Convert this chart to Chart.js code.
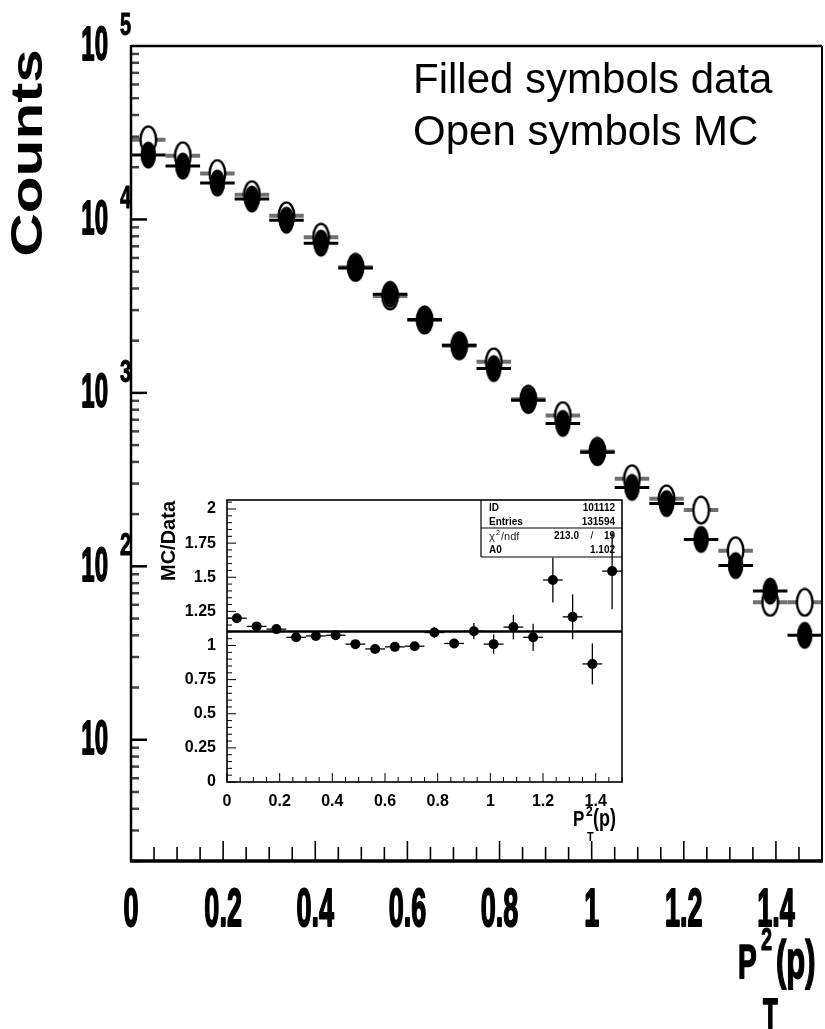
<!DOCTYPE html>
<html lang="en">
<head>
  <meta charset="UTF-8" />
  <title>pT2 spectrum, data vs MC</title>
  <script src="https://cdn.jsdelivr.net/npm/chart.js"></script>
  <style>
    body { margin: 0; background: #fff; }
    #wrap { position: relative; width: 825px; height: 1029px; }
    #mainChart { position: absolute; left: 0; top: 0; }
    #ratioChart { position: absolute; left: 150px; top: 480px; }
  </style>
</head>
<body>
  <div id="wrap">
    <canvas id="mainChart" width="825" height="1029"></canvas>
    <canvas id="ratioChart" width="480" height="370"></canvas>
  </div>

  <script>
    // 20 bins in pT^2, width 0.075
    const binCenters = [0.0375, 0.1125, 0.1875, 0.2625, 0.3375, 0.4125, 0.4875, 0.5625, 0.6375, 0.7125,
                        0.7875, 0.8625, 0.9375, 1.0125, 1.0875, 1.1625, 1.2375, 1.3125, 1.3875, 1.4625];
    const binHalfWidth = 0.0375;

    // counts per bin
    const dataCounts = [23500, 20300, 16200, 13100, 9900, 7300, 5240, 3700, 2650, 1880,
                        1380, 906, 667, 454, 285, 230, 143, 101, 72, 40];
    const mcCounts = [28800, 23300, 18400, 13900, 10500, 7900, 5300, 3620, 2630, 1870,
                      1510, 920, 740, 460, 320, 245, 211, 123, 62, 62];

    // MC/Data ratio and its errors
    const ratioValues = [1.20, 1.14, 1.12, 1.06, 1.07, 1.075, 1.01, 0.975, 0.99, 0.995,
                         1.095, 1.015, 1.105, 1.01, 1.135, 1.06, 1.48, 1.21, 0.865, 1.545];
    const ratioErrors = [0.02, 0.02, 0.02, 0.02, 0.02, 0.02, 0.02, 0.02, 0.02, 0.025,
                         0.04, 0.035, 0.06, 0.07, 0.09, 0.1, 0.165, 0.165, 0.15, 0.28];
    const fitA0 = 1.102;

    // fit box
    const statLabels = ['ID', 'Entries', 'chi2', 'A0'];
    const statValues = ['101112', '131594', '213.0 / 19', fitA0.toFixed(3)];

    // tick labels
    const xTickValues = [0, 0.2, 0.4, 0.6, 0.8, 1, 1.2, 1.4];
    const xTickLabels = ['0', '0.2', '0.4', '0.6', '0.8', '1', '1.2', '1.4'];
    const yDecadeExponents = [1, 2, 3, 4, 5];
    const ratioYTicks = [0, 0.25, 0.5, 0.75, 1, 1.25, 1.5, 1.75, 2];
    const ratioYLabels = ['0', '0.25', '0.5', '0.75', '1', '1.25', '1.5', '1.75', '2'];

    const SANS = '"Liberation Sans", Arial, Helvetica, sans-serif';

    // condensed heavy text: stretched vertically, outlined to thicken strokes
    function stretchText(ctx, text, x, y, font, sy, align, baseline, heavy) {
      ctx.save();
      ctx.font = font;
      ctx.fillStyle = '#000';
      ctx.strokeStyle = '#000';
      ctx.textAlign = align;
      ctx.textBaseline = baseline;
      ctx.translate(x, y);
      ctx.scale(1, sy);
      ctx.fillText(text, 0, 0);
      if (heavy) {
        ctx.lineWidth = heavy;
        ctx.lineJoin = 'round';
        ctx.strokeText(text, 0, 0);
      }
      ctx.restore();
    }

    function line(ctx, x1, y1, x2, y2, w, color) {
      ctx.beginPath();
      ctx.moveTo(x1, y1);
      ctx.lineTo(x2, y2);
      ctx.lineWidth = w;
      ctx.strokeStyle = color || '#000';
      ctx.stroke();
    }

    // elliptical markers (filled = data, open = MC)
    function ellipseSymbol(filled) {
      const c = document.createElement('canvas');
      c.width = 19; c.height = 30;
      const g = c.getContext('2d');
      g.beginPath();
      g.ellipse(9.5, 15, 7.8, 13.4, 0, 0, Math.PI * 2);
      if (filled) {
        g.fillStyle = '#000';
        g.fill();
      } else {
        g.fillStyle = '#fff';
        g.fill();
        g.lineWidth = 2.4;
        g.strokeStyle = '#000';
        g.stroke();
      }
      return c;
    }

    const toPoints = vals => vals.map((v, i) => ({ x: binCenters[i], y: v }));

    // ---------- main spectrum ----------
    const mainFrame = {
      id: 'mainFrame',
      beforeDatasetsDraw(chart) {
        const ctx = chart.ctx;
        const xs = chart.scales.x, ys = chart.scales.y;
        ctx.save();
        ctx.lineCap = 'butt';
        // bin-width bars
        mcCounts.forEach((v, i) => {
          const y = ys.getPixelForValue(v);
          line(ctx, xs.getPixelForValue(binCenters[i] - binHalfWidth), y,
                    xs.getPixelForValue(binCenters[i] + binHalfWidth), y, 4, '#707070');
        });
        dataCounts.forEach((v, i) => {
          const y = ys.getPixelForValue(v);
          line(ctx, xs.getPixelForValue(binCenters[i] - binHalfWidth), y,
                    xs.getPixelForValue(binCenters[i] + binHalfWidth), y, 3, '#000');
        });
        ctx.restore();
      },
      afterDraw(chart) {
        const ctx = chart.ctx;
        const { left, right, top, bottom } = chart.chartArea;
        const xs = chart.scales.x, ys = chart.scales.y;
        ctx.save();

        // y ticks, inward
        for (let d = 0; d <= 4; d++) {
          for (let k = 1; k <= 9; k++) {
            const v = k * Math.pow(10, d);
            if (v < ys.min || v > ys.max) continue;
            const y = ys.getPixelForValue(v);
            if (k === 1) line(ctx, left, y, left + 16, y, 2.5, '#000');
            else line(ctx, left, y, left + 8, y, 2.5, '#444');
          }
        }
        // x ticks, inward
        for (let i = 0; i <= 30; i++) {
          const v = i * 0.05;
          const x = xs.getPixelForValue(v);
          const major = i % 4 === 0;
          line(ctx, x, bottom, x, bottom - (major ? 20 : 14), 1.6, '#000');
        }

        // frame
        line(ctx, left, top - 1, left, bottom + 1, 2.5);
        line(ctx, left, top, right, top, 2.5);
        line(ctx, right, top, right, bottom, 2);
        line(ctx, left - 1, bottom, right + 1, bottom, 3.5);

        // y labels 10^n
        yDecadeExponents.forEach(e => {
          const y = ys.getPixelForValue(Math.pow(10, e));
          stretchText(ctx, '10', 108, y + 1, 'bold 24px ' + SANS, 2.0, 'right', 'middle', 0.9);
          if (e > 1) stretchText(ctx, String(e), 120, y - 11, 'bold 20px ' + SANS, 1.6, 'left', 'alphabetic', 0.6);
        });

        // x labels
        xTickValues.forEach((v, i) => {
          stretchText(ctx, xTickLabels[i], xs.getPixelForValue(v), 911, 'bold 27px ' + SANS, 2.0, 'center', 'middle', 1);
        });

        // x title P_T^2(p)
        stretchText(ctx, 'P', 738, 978, 'bold 28px ' + SANS, 1.75, 'left', 'alphabetic', 1);
        stretchText(ctx, '2', 761, 950, 'bold 20px ' + SANS, 1.6, 'left', 'alphabetic', 0.6);
        stretchText(ctx, '(p)', 776, 978, 'bold 31px ' + SANS, 1.75, 'left', 'alphabetic', 1);
        stretchText(ctx, 'T', 763, 1028, 'bold 24px ' + SANS, 1.75, 'left', 'alphabetic', 1);

        // y title
        ctx.save();
        ctx.translate(42, 153);
        ctx.rotate(-Math.PI / 2);
        ctx.scale(1.37, 1);
        ctx.font = 'bold 44px ' + SANS;
        ctx.fillStyle = '#000';
        ctx.textAlign = 'center';
        ctx.textBaseline = 'alphabetic';
        ctx.fillText('Counts', 0, 0);
        ctx.restore();

        // annotation
        ctx.font = '42px ' + SANS;
        ctx.fillStyle = '#000';
        ctx.textAlign = 'left';
        ctx.textBaseline = 'alphabetic';
        ctx.fillText('Filled symbols data', 413, 93);
        ctx.fillText('Open symbols MC', 413, 145);

        ctx.restore();
      }
    };

    new Chart(document.getElementById('mainChart'), {
      type: 'scatter',
      data: {
        datasets: [
          {
            label: 'Data',
            data: toPoints(dataCounts),
            pointStyle: ellipseSymbol(true),
            pointRadius: 8
          },
          {
            label: 'MC',
            data: toPoints(mcCounts),
            pointStyle: ellipseSymbol(false),
            pointRadius: 8
          }
        ]
      },
      options: {
        responsive: false,
        animation: false,
        events: [],
        layout: { autoPadding: false, padding: { left: 131, top: 46, right: 3, bottom: 168 } },
        plugins: { legend: { display: false }, tooltip: { enabled: false } },
        scales: {
          x: { type: 'linear', min: 0, max: 1.5, display: false },
          y: { type: 'logarithmic', min: 2, max: 100000, display: false }
        }
      },
      plugins: [mainFrame]
    });

    // ---------- ratio inset ----------
    const ratioFrame = {
      id: 'ratioFrame',
      beforeDatasetsDraw(chart) {
        const ctx = chart.ctx;
        const { left, right, top, bottom } = chart.chartArea;
        const xs = chart.scales.x, ys = chart.scales.y;
        ctx.save();
        ctx.fillStyle = '#fff';
        ctx.fillRect(left, top, right - left, bottom - top);

        // fit box, top right
        const bl = right - 141, bb = top + 57;
        line(ctx, bl, top, bl, bb, 1.2);
        line(ctx, bl, bb, right, bb, 1.2);
        line(ctx, bl, top + 28, right, top + 28, 1);
        ctx.fillStyle = '#000';
        ctx.textBaseline = 'middle';
        const rowY = [top + 8, top + 22, top + 36, top + 50];
        ctx.font = 'bold 10px ' + SANS;
        ctx.textAlign = 'left';
        ctx.fillText(statLabels[0], bl + 8, rowY[0]);
        ctx.fillText(statLabels[1], bl + 8, rowY[1]);
        ctx.fillText(statLabels[3], bl + 8, rowY[3]);
        // chi^2/ndf in the light face
        ctx.fillStyle = '#222';
        ctx.font = '11px ' + SANS;
        ctx.fillText('\u03C7', bl + 8, rowY[2] + 1);
        ctx.font = '7px ' + SANS;
        ctx.fillText('2', bl + 15, rowY[2] - 3);
        ctx.font = '11px ' + SANS;
        ctx.fillText('/ndf', bl + 20, rowY[2] + 1);
        ctx.fillStyle = '#000';
        ctx.font = 'bold 10px ' + SANS;
        ctx.textAlign = 'right';
        ctx.fillText(statValues[0], right - 7, rowY[0]);
        ctx.fillText(statValues[1], right - 7, rowY[1]);
        const parts = statValues[2].split(' / ');
        ctx.fillText(parts[0], right - 43, rowY[2]);
        ctx.font = '10px ' + SANS;
        ctx.textAlign = 'center';
        ctx.fillText('/', right - 30, rowY[2]);
        ctx.font = 'bold 10px ' + SANS;
        ctx.textAlign = 'right';
        ctx.fillText(parts[1], right - 7, rowY[2]);
        ctx.fillText(statValues[3], right - 7, rowY[3]);

        // error bars
        ratioValues.forEach((v, i) => {
          const x = xs.getPixelForValue(binCenters[i]);
          const y = ys.getPixelForValue(v);
          line(ctx, xs.getPixelForValue(binCenters[i] - binHalfWidth), y,
                    xs.getPixelForValue(binCenters[i] + binHalfWidth), y, 1.3);
          line(ctx, x, ys.getPixelForValue(v - ratioErrors[i]), x, ys.getPixelForValue(v + ratioErrors[i]), 1.3);
        });
        ctx.restore();
      },
      afterDraw(chart) {
        const ctx = chart.ctx;
        const { left, right, top, bottom } = chart.chartArea;
        const xs = chart.scales.x, ys = chart.scales.y;
        ctx.save();

        // y ticks every 0.05, major each 0.25
        for (let i = 0; i <= 41; i++) {
          const v = i * 0.05;
          if (v > ys.max) break;
          const y = ys.getPixelForValue(v);
          line(ctx, left, y, left + (i % 5 === 0 ? 9 : 5), y, 1);
        }
        // x ticks every 0.05, major each 0.2
        for (let i = 0; i <= 30; i++) {
          const x = xs.getPixelForValue(i * 0.05);
          line(ctx, x, bottom, x, bottom - (i % 4 === 0 ? 9 : 5), 1);
        }
        // frame
        ctx.lineWidth = 1.6;
        ctx.strokeStyle = '#000';
        ctx.strokeRect(left, top, right - left, bottom - top);

        // labels
        ctx.fillStyle = '#000';
        ctx.font = 'bold 16px ' + SANS;
        ctx.textAlign = 'right';
        ctx.textBaseline = 'middle';
        ratioYTicks.forEach((v, i) => ctx.fillText(ratioYLabels[i], left - 11, ys.getPixelForValue(v)));
        ctx.textAlign = 'center';
        xTickValues.forEach((v, i) => ctx.fillText(xTickLabels[i], xs.getPixelForValue(v), bottom + 20));

        // y title
        ctx.save();
        ctx.translate(25, 61);
        ctx.rotate(-Math.PI / 2);
        ctx.font = 'bold 20px ' + SANS;
        ctx.textAlign = 'center';
        ctx.textBaseline = 'alphabetic';
        ctx.fillText('MC/Data', 0, 0);
        ctx.restore();

        // x title
        stretchText(ctx, 'P', 423, 346, 'bold 17px ' + SANS, 1.3, 'left', 'alphabetic');
        stretchText(ctx, '2', 436, 336, 'bold 12px ' + SANS, 1.2, 'left', 'alphabetic');
        stretchText(ctx, '(p)', 443, 346, 'bold 18px ' + SANS, 1.3, 'left', 'alphabetic');
        stretchText(ctx, 'T', 437, 361, 'bold 11px ' + SANS, 1.2, 'left', 'alphabetic');
        ctx.restore();
      }
    };

    new Chart(document.getElementById('ratioChart'), {
      type: 'scatter',
      data: {
        datasets: [
          {
            label: 'MC/Data',
            data: toPoints(ratioValues),
            pointStyle: 'circle',
            pointRadius: 5,
            pointBackgroundColor: '#000',
            pointBorderWidth: 0
          },
          {
            label: 'fit',
            data: [{ x: 0, y: fitA0 }, { x: 1.5, y: fitA0 }],
            showLine: true,
            borderColor: '#000',
            borderWidth: 2.5,
            pointRadius: 0
          }
        ]
      },
      options: {
        responsive: false,
        animation: false,
        events: [],
        layout: { autoPadding: false, padding: { left: 77, top: 20, right: 8, bottom: 68 } },
        plugins: { legend: { display: false }, tooltip: { enabled: false } },
        scales: {
          x: { type: 'linear', min: 0, max: 1.5, display: false },
          y: { type: 'linear', min: 0, max: 2.066, display: false }
        }
      },
      plugins: [ratioFrame]
    });
  </script>
</body>
</html>
